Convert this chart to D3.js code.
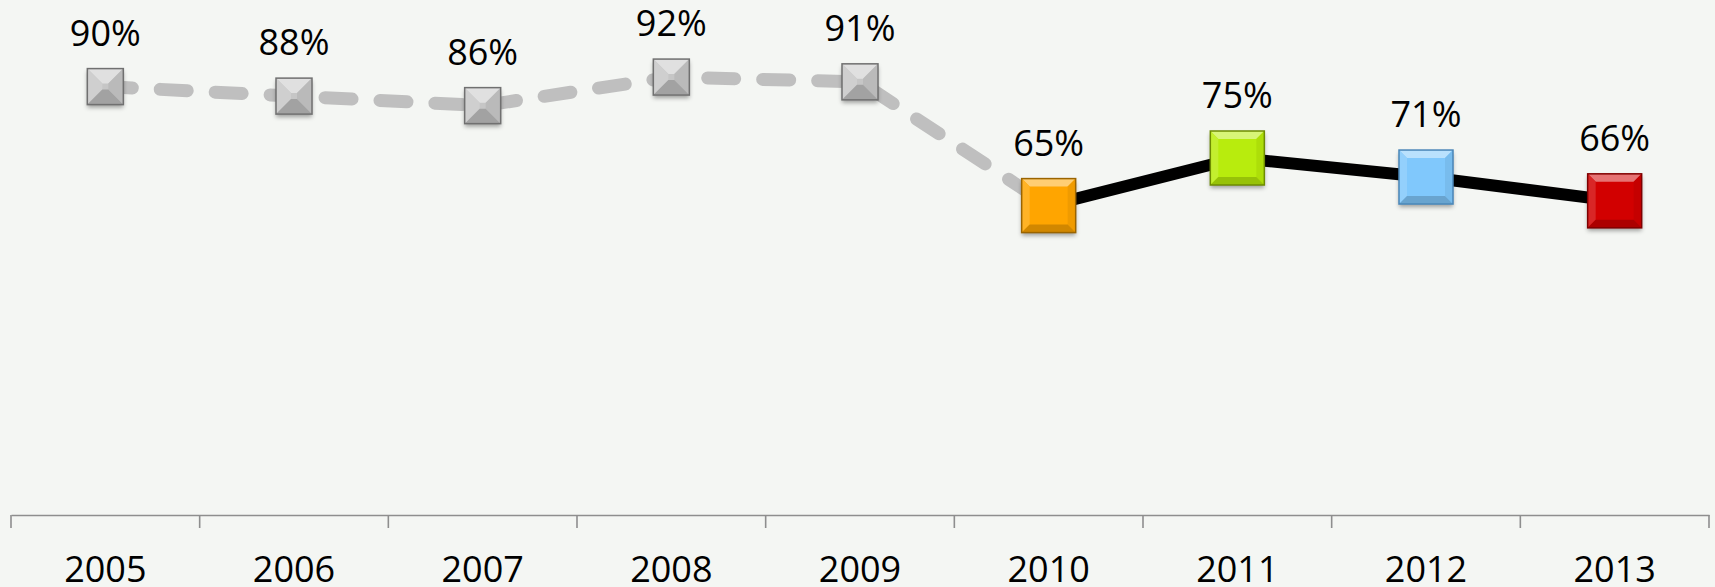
<!DOCTYPE html>
<html>
<head>
<meta charset="utf-8">
<script src="https://cdn.jsdelivr.net/npm/d3@7/dist/d3.min.js"></script>
<style>
  html, body { margin: 0; padding: 0; background: #f4f6f3; }
  svg { display: block; }
  text { font-family: "Open Sans", "Noto Sans", sans-serif; fill: #000; }
</style>
</head>
<body>
<svg id="chart" width="1715" height="587"></svg>
<script>
const years = ["2005","2006","2007","2008","2009","2010","2011","2012","2013"];
const values = [0.90, 0.88, 0.86, 0.92, 0.91, 0.65, 0.75, 0.71, 0.66];
const labels = ["90%","88%","86%","92%","91%","65%","75%","71%","66%"];
const markerColors = ["#c6c6c6","#c6c6c6","#c6c6c6","#c6c6c6","#c6c6c6","#ffa500","#b8ec0a","#80c8fc","#d20000"];
const markerBorders = ["#707070","#707070","#707070","#707070","#707070","#9a6400","#6e8c00","#4a86b8","#800000"];
const highlighted = [false,false,false,false,false,true,true,true,true];

const W = 1715, H = 587;
const svg = d3.select("#chart");
svg.append("rect").attr("width", W).attr("height", H).attr("fill", "#f4f6f3");

const defs = svg.append("defs");
const f = defs.append("filter").attr("id","shadow").attr("x","-30%").attr("y","-30%").attr("width","160%").attr("height","170%");
f.append("feDropShadow").attr("dx",0).attr("dy",3).attr("stdDeviation",2.2).attr("flood-color","#000").attr("flood-opacity",0.35);

const x = d3.scaleBand().domain(years).range([11, 1709]).padding(0);
const y = d3.scaleLinear().domain([0, 1]).range([515, 39]);
const cx = d => x(d) + x.bandwidth() / 2;

// Axis
const axisG = svg.append("g").attr("transform", `translate(0,${y(0)})`);
axisG.call(d3.axisBottom(x).tickSize(0).tickPadding(0));
axisG.select(".domain").attr("stroke", "#8e8e8e").attr("stroke-width", 1.6);
axisG.selectAll(".tick text")
  .attr("y", 67).attr("dy", "0")
  .style("font-size", "36px")
  .style("font-family", '"Open Sans", "Noto Sans", sans-serif')
  .attr("fill", "#000");
const bounds = years.map(d => x(d)).concat([x(years[years.length-1]) + x.bandwidth()]);
axisG.selectAll(".bound").data(bounds).enter().append("line")
  .attr("class","bound")
  .attr("x1", d => d).attr("x2", d => d)
  .attr("y1", 0).attr("y2", 13)
  .attr("stroke", "#8e8e8e").attr("stroke-width", 1.6);

// Lines
const pts = years.map((d,i) => [cx(d), y(values[i])]);
const line = d3.line();
svg.append("path")
  .attr("d", line(pts.slice(0, 6)))
  .attr("fill","none").attr("stroke","#bfbfbf").attr("stroke-width",13)
  .attr("stroke-linecap","round").attr("stroke-linejoin","round")
  .attr("stroke-dasharray","27,28");
svg.append("path")
  .attr("d", line(pts.slice(5)))
  .attr("fill","none").attr("stroke","#000").attr("stroke-width",12)
  .attr("stroke-linejoin","round");

// Markers with bevel
function drawMarker(g, size, base, border, bevel) {
  const h = size / 2;
  const c = d3.color(base);
  const b = bevel;
  g.append("rect").attr("x",-h).attr("y",-h).attr("width",size).attr("height",size)
    .attr("fill", base).attr("filter","url(#shadow)");
  const top = [[-h,-h],[h,-h],[h-b,-h+b],[-h+b,-h+b]];
  const bottom = [[-h,h],[h,h],[h-b,h-b],[-h+b,h-b]];
  const left = [[-h,-h],[-h+b,-h+b],[-h+b,h-b],[-h,h]];
  const right = [[h,-h],[h-b,-h+b],[h-b,h-b],[h,h]];
  const poly = (p, col) => g.append("polygon").attr("points", p.map(q => q.join(",")).join(" ")).attr("fill", col);
  poly(top, d3.interpolateRgb(base, "#ffffff")(0.45));
  poly(left, d3.interpolateRgb(base, "#ffffff")(0.15));
  poly(right, d3.interpolateRgb(base, "#000000")(0.06));
  poly(bottom, d3.interpolateRgb(base, "#000000")(0.18));
  g.append("rect").attr("x",-h).attr("y",-h).attr("width",size).attr("height",size)
    .attr("fill","none").attr("stroke", border).attr("stroke-width",1.5);
}

years.forEach((d,i) => {
  const size = highlighted[i] ? 54 : 36;
  const bevel = highlighted[i] ? 8 : 15;
  const g = svg.append("g").attr("transform", `translate(${cx(d)},${y(values[i])})`);
  drawMarker(g, size, markerColors[i], markerBorders[i], bevel);
  svg.append("text")
    .attr("x", cx(d))
    .attr("y", y(values[i]) - size/2 - 23)
    .attr("text-anchor","middle")
    .style("font-size","36px")
    .text(labels[i]);
});
</script>
</body>
</html>
